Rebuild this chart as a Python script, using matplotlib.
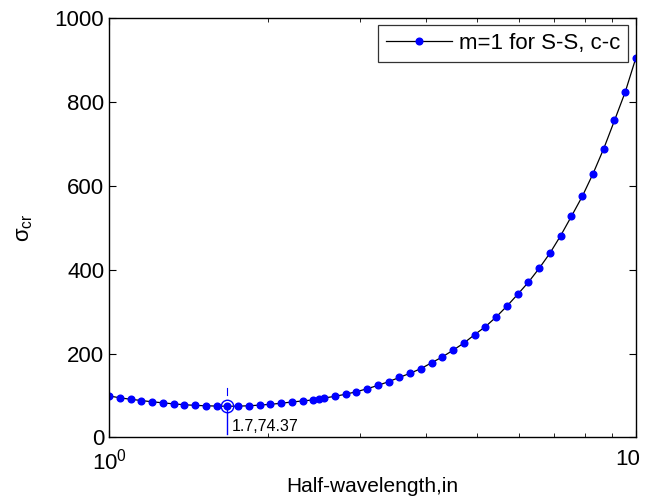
import matplotlib
matplotlib.use("Agg")
import matplotlib.pyplot as plt
import matplotlib.transforms as mtransforms
from matplotlib.ticker import LogLocator, NullFormatter

plt.rcParams['font.family'] = ['Liberation Sans', 'DejaVu Sans']
plt.rcParams['mathtext.fontset'] = 'custom'
plt.rcParams['mathtext.rm'] = 'Liberation Sans'
plt.rcParams['mathtext.it'] = 'Liberation Sans:italic'
plt.rcParams['mathtext.bf'] = 'Liberation Sans:bold'

# Data
half_wavelength = [1.000, 1.048, 1.099, 1.151, 1.207, 1.265, 1.326, 1.389, 1.456, 1.526,
                   1.600, 1.677, 1.758, 1.842, 1.931, 2.024, 2.121, 2.223, 2.330, 2.442,
                   2.500, 2.560, 2.683, 2.812, 2.947, 3.089, 3.237, 3.393, 3.556, 3.728,
                   3.907, 4.095, 4.292, 4.498, 4.715, 4.942, 5.179, 5.429, 5.690, 5.964,
                   6.251, 6.551, 6.866, 7.197, 7.543, 7.906, 8.286, 8.685, 9.103, 9.541,
                   10.000]
sigma_cr = [99.0, 94.5, 91.0, 88.0, 85.0, 82.5, 80.0, 78.0, 76.5, 75.5,
            74.8, 74.37, 74.6, 75.5, 77.0, 79.0, 81.5, 84.5, 87.0, 89.5,
            91.0, 94.0, 98.0, 103.0, 109.0, 116.0, 124.0, 133.0, 143.0, 153.0,
            164.0, 178.0, 192.0, 208.0, 225.0, 245.0, 264.0, 287.0, 313.0, 341.0,
            370.0, 403.0, 439.0, 481.0, 527.0, 574.0, 628.0, 688.0, 755.0, 823.0,
            905.0]
series_label = "m=1 for S-S, c-c"
tip_x, tip_y = 1.677, 74.37
tip_text = "1.7,74.37"
y_ticks = [0, 200, 400, 600, 800, 1000]
x_ticks = [1, 10]
x_tick_labels = [r"$10^{0}$", "10"]

fig = plt.figure(figsize=(6.47, 5.04), dpi=100)
ax = fig.add_axes([0.1685, 0.132, 0.8145, 0.833])

ax.plot(half_wavelength, sigma_cr, color='black', lw=0.9, marker='o',
        markersize=4.8, markerfacecolor='blue', markeredgecolor='blue',
        label=series_label)

# data tip
ax.plot([tip_x], [tip_y], marker='o', markersize=9, markerfacecolor='none',
        markeredgecolor='blue', markeredgewidth=1.0, linestyle='none')
ax.plot([tip_x, tip_x], [tip_y - 7, 8], color='blue', lw=1.0)
ax.plot([tip_x, tip_x], [tip_y + 27, tip_y + 43], color='blue', lw=0.8)
ax.annotate(tip_text, xy=(tip_x, 8), xytext=(3, 0), textcoords='offset points',
            fontsize=11.5, ha='left', va='bottom', color='black')

ax.set_xscale('log')
ax.set_xlim(1, 10)
ax.set_ylim(0, 1000)
ax.set_yticks(y_ticks)
ax.set_xticks(x_ticks)
ax.set_xticklabels(x_tick_labels)
ax.xaxis.set_minor_locator(LogLocator(base=10, subs=range(2, 10), numticks=12))
ax.xaxis.set_minor_formatter(NullFormatter())

ax.tick_params(which='both', direction='in', top=True, right=True, labelsize=16)
ax.tick_params(which='major', length=5, width=0.8)
ax.tick_params(which='minor', length=3, width=0.6)
ax.tick_params(axis='x', which='major', pad=8)
for s in ax.spines.values():
    s.set_linewidth(1.0)

# right-hand "10" label: shifted left as in the reference
lbl = ax.get_xticklabels()[1]
lbl.set_horizontalalignment('right')
lbl.set_transform(lbl.get_transform() +
                  mtransforms.ScaledTranslation(3 / 72, 0, fig.dpi_scale_trans))

ax.set_xlabel("Half-wavelength,in", fontsize=15, labelpad=2)
ax.set_ylabel("σ$_{\\rm cr}$", fontsize=16, labelpad=14)

leg = ax.legend(loc='upper right', fontsize=16, frameon=True, fancybox=False,
                edgecolor='black', borderpad=0.35, handlelength=3.0,
                handletextpad=0.3, borderaxespad=0.35)
leg.get_frame().set_linewidth(0.9)

fig.savefig("out.png", dpi=100)
